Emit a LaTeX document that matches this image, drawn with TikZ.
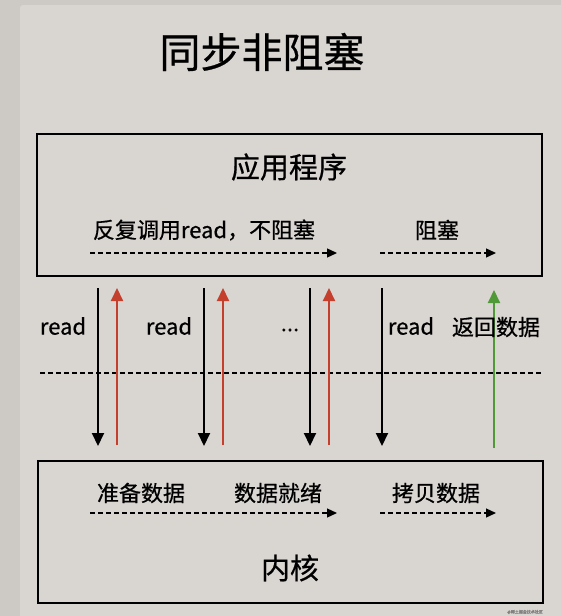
\documentclass[tikz,border=0pt]{standalone}
\usepackage{fontspec}
\setmainfont[FakeBold=0.6]{Noto Sans CJK SC}
\usetikzlibrary{arrows.meta}

\definecolor{paper}{HTML}{D9D5D1}
\definecolor{margin}{HTML}{CDC9C5}
\definecolor{retred}{HTML}{C43F2C}
\definecolor{retgreen}{HTML}{4F9A37}

\tikzset{
  layer/.style={draw, line width=2pt, minimum width=505pt, minimum height=142pt, inner sep=0pt},
  lbl/.style={font=\fontsize{22}{24}\selectfont, inner sep=0pt},
  flow/.style={line width=1.3pt, dash pattern=on 4.5pt off 3.5pt, -{Triangle[length=10pt,width=9pt]}},
  call/.style={line width=2pt, -{Triangle[length=13pt,width=12pt]}},
}

\begin{document}
\begin{tikzpicture}[x=1pt, y=-1pt]
\useasboundingbox (0,0) rectangle (561,616);

% Hintergrund
\fill[margin] (0,0) rectangle (561,616);
\fill[paper, rounded corners=3pt] (20,5) rectangle (575,630);

% Titel
\node[font=\fontsize{41}{44}\selectfont, inner sep=0pt] (title) at (262,52) {同步非阻塞};

% Anwendung (oben)
\node[layer] (app) at (289.5,205) {};
\node[font=\fontsize{29}{32}\selectfont, inner sep=0pt] (appname) at (289,167) {应用程序};
\node[lbl] (poll) at (204,230) {反复调用read，不阻塞};
\node[lbl] (wait) at (437,230) {阻塞};
\coordinate (a1) at (90,253);  \coordinate (a2) at (337,253);
\coordinate (a3) at (380,253); \coordinate (a4) at (496,253);
\draw[flow] (a1) -- (a2);
\draw[flow] (a3) -- (a4);

% Kern (unten)
\node[layer] (kernel) at (290,532) {};
\node[font=\fontsize{29}{32}\selectfont, inner sep=0pt] (kname) at (290,568) {内核};
\node[lbl] (prep) at (141,493) {准备数据};
\node[lbl] (ready) at (278,493) {数据就绪};
\node[lbl] (copy) at (436,493) {拷贝数据};
\coordinate (k1) at (90,513);  \coordinate (k2) at (337,513);
\coordinate (k3) at (380,513); \coordinate (k4) at (496,513);
\draw[flow] (k1) -- (k2);
\draw[flow] (k3) -- (k4);

% Grenze
\coordinate (g1) at (40,373); \coordinate (g2) at (542,373);
\draw[line width=1.3pt, dash pattern=on 4.5pt off 3.5pt] (g1) -- (g2);

% Aufrufe read
\foreach \name/\xa/\xb in {c1/98/117, c2/204/223, c3/310/329} {
  \coordinate (\name d0) at (\xa,288); \coordinate (\name d1) at (\xa,446);
  \coordinate (\name u0) at (\xb,445); \coordinate (\name u1) at (\xb,288);
  \draw[call] (\name d0) -- (\name d1);
  \draw[call, retred] (\name u0) -- (\name u1);
}
\coordinate (c4d0) at (382,288); \coordinate (c4d1) at (382,446);
\draw[call] (c4d0) -- (c4d1);
\coordinate (c4u0) at (494,448); \coordinate (c4u1) at (494,290);
\draw[call, retgreen] (c4u0) -- (c4u1);

\node[lbl] (read1) at (63,326) {read};
\node[lbl] (read2) at (169,326) {read};
\node[lbl] (more) at (290,330) {...};
\node[lbl] (read4) at (411,326) {read};
\node[lbl] (ret) at (496,327) {返回数据};

% Wasserzeichen
\node[font=\fontsize{4}{5}\selectfont, text=gray, inner sep=0pt] (mark) at (525,612) {@稀土掘金技术社区};
\end{tikzpicture}
\end{document}
